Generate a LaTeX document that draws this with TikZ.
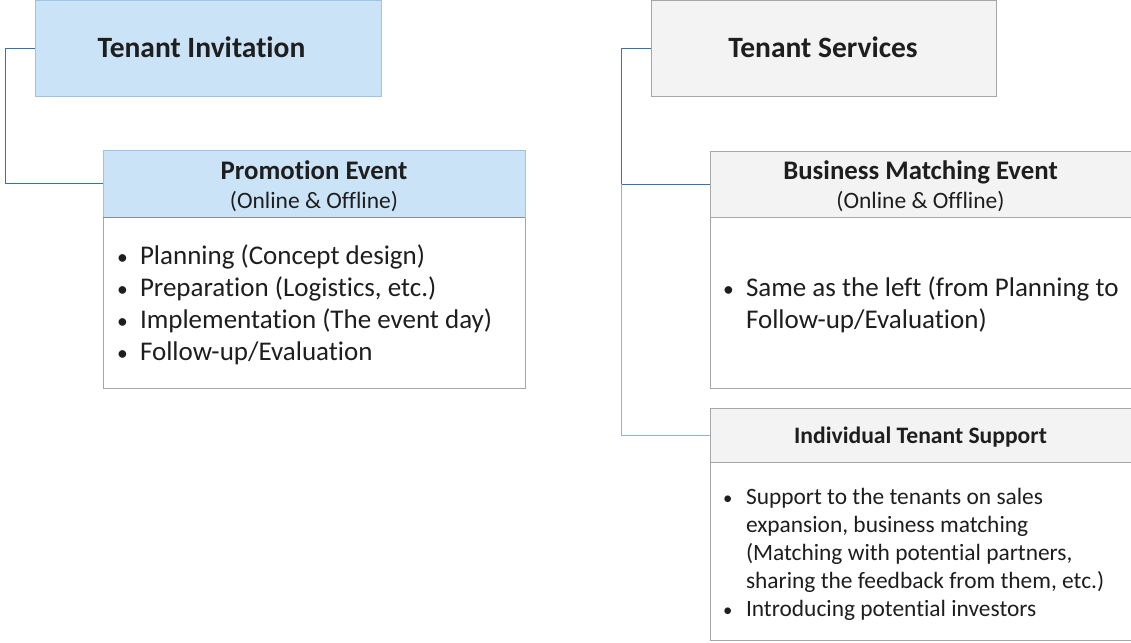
\documentclass[tikz,border=0pt]{standalone}
\usepackage{fontspec}
\setmainfont[Ligatures=NoCommon]{Carlito}
\definecolor{bluefill}{HTML}{CBE3F6}
\definecolor{blueedge}{HTML}{9DC3E6}
\definecolor{grayfill}{HTML}{F2F3F2}
\definecolor{grayedge}{HTML}{A6A6A6}
\definecolor{divider}{HTML}{8C8C8C}
\definecolor{linkblue}{HTML}{2E75B6}
\definecolor{linklight}{HTML}{8DB3E2}
\definecolor{ink}{HTML}{1E1E1E}
\newcommand{\titlesize}{\fontsize{29.5}{35}\selectfont\bfseries}
\newcommand{\headsize}{\fontsize{26.8}{32}\selectfont\bfseries}
\newcommand{\subsize}{\fontsize{23.5}{28}\selectfont}
\newcommand{\listsize}{\fontsize{27}{32}\selectfont}
\newcommand{\smallhead}{\fontsize{23.6}{28}\selectfont\bfseries}
\newcommand{\smalllist}{\fontsize{23.4}{28}\selectfont}
\newcommand{\listdot}{\scalebox{0.8}{\textbullet}}
\begin{document}
\begin{tikzpicture}[x=1pt,y=-1pt,
  box/.style={rectangle, inner sep=0pt, outer sep=0pt, line width=1pt, anchor=north west},
  bluebox/.style={box, draw=blueedge, fill=bluefill},
  graybox/.style={box, draw=grayedge, fill=grayfill},
  bodybox/.style={box, draw=grayedge, fill=white},
  link/.style={draw=linkblue, line width=1pt},
  linksoft/.style={draw=linklight, line width=1pt},
  txt/.style={inner sep=0pt, outer sep=0pt, text=ink},
  bullet/.style={txt, anchor=base west},
]
\useasboundingbox (0,0) rectangle (1131,642);

% top-level boxes
\node[bluebox, minimum width=346pt, minimum height=95.5pt] (inv) at (35,0.5) {};
\node[graybox, minimum width=345pt, minimum height=95.5pt] (svc) at (651,0.5) {};

% promotion event card
\node[bodybox, minimum width=422pt, minimum height=171pt] (promoBody) at (103,217) {};
\node[bluebox, minimum width=422pt, minimum height=67pt] (promoHead) at (103,150) {};
\draw[divider, line width=1pt] (promoHead.south west) -- (promoHead.south east);

% business matching card
\node[bodybox, minimum width=421pt, minimum height=171pt] (bmBody) at (710,217) {};
\node[graybox, minimum width=421pt, minimum height=66pt] (bmHead) at (710,151) {};

% individual support card
\node[bodybox, minimum width=421pt, minimum height=178.5pt] (itsBody) at (710,462) {};
\node[graybox, minimum width=421pt, minimum height=54pt] (itsHead) at (710,408) {};

% connectors
\draw[link] (inv.west) -- ++(-30,0) |- (promoHead.west);
\draw[link] (svc.west) -- ++(-30,0) coordinate (trunk) |- (bmHead.west);
\draw[linksoft] (trunk |- bmHead.west) |- (itsHead.west);

% titles
\node[txt, anchor=base, font=\titlesize] (invT) at (201.5,58) {Tenant Invitation};
\node[txt, anchor=base, font=\titlesize] (svcT) at (823,58) {Tenant Services};

% promotion event text
\node[txt, anchor=base, font=\headsize] (promoT) at (314,179) {Promotion Event};
\node[txt, anchor=base, font=\subsize] (promoS) at (314,208) {(Online \& Offline)};
\node[bullet, font=\listsize] (p1b) at (117,264) {\listdot};
\node[bullet, font=\listsize] (p1) at (140,264) {Planning (Concept design)};
\node[bullet, font=\listsize] (p2b) at (117,296) {\listdot};
\node[bullet, font=\listsize] (p2) at (140,296) {Preparation (Logistics, etc.)};
\node[bullet, font=\listsize] (p3b) at (117,328) {\listdot};
\node[bullet, font=\listsize] (p3) at (140,328) {Implementation (The event day)};
\node[bullet, font=\listsize] (p4b) at (117,360) {\listdot};
\node[bullet, font=\listsize] (p4) at (140,360) {Follow-up/Evaluation};

% business matching text
\node[txt, anchor=base, font=\headsize] (bmT) at (920.5,179) {Business Matching Event};
\node[txt, anchor=base, font=\subsize] (bmS) at (920.5,208) {(Online \& Offline)};
\node[bullet, font=\listsize] (b1b) at (723,296) {\listdot};
\node[bullet, font=\listsize] (b1) at (746,296) {Same as the left (from Planning to};
\node[bullet, font=\listsize] (b2) at (746,328) {Follow-up/Evaluation)};

% individual support text
\node[txt, anchor=base, font=\smallhead] (itsT) at (920.5,443) {Individual Tenant Support};
\node[bullet, font=\smalllist] (i1b) at (723,504) {\listdot};
\node[bullet, font=\smalllist] (i1) at (746,504) {Support to the tenants on sales};
\node[bullet, font=\smalllist] (i2) at (746,532) {expansion, business matching};
\node[bullet, font=\smalllist] (i3) at (746,560) {(Matching with potential partners,};
\node[bullet, font=\smalllist] (i4) at (746,588) {sharing the feedback from them, etc.)};
\node[bullet, font=\smalllist] (i5b) at (723,616) {\listdot};
\node[bullet, font=\smalllist] (i5) at (746,616) {Introducing potential investors};
\end{tikzpicture}
\end{document}
